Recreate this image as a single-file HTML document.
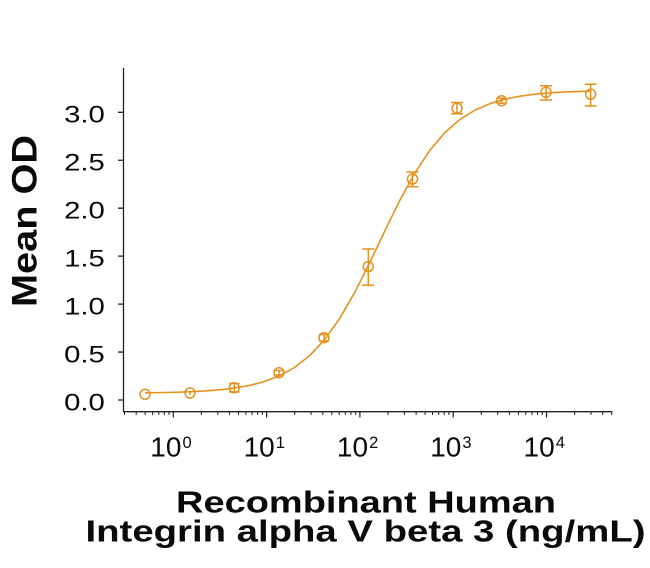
<!DOCTYPE html>
<html>
<head>
<meta charset="utf-8">
<style>
  html, body { margin:0; padding:0; background:#ffffff; }
  svg { display:block; }
  text { font-family: "Liberation Sans", Arial, sans-serif; fill:#0a0a0a; }
</style>
</head>
<body>
<svg width="650" height="568" viewBox="0 0 650 568" xmlns="http://www.w3.org/2000/svg">
  <rect width="650" height="568" fill="#ffffff"/>

  <path fill="none" stroke="#222" stroke-width="1.3"
    d="M123.5 68V412 M123 411.7H612.5 M118 400h5.5 M118 352.05h5.5 M118 304.1h5.5 M118 256.15h5.5 M118 208.2h5.5 M118 160.25h5.5 M118 112.3h5.5"/>

  <path fill="none" stroke="#222" stroke-width="1.2"
    d="M173.3 411.7v5.8 M266.6 411.7v5.8 M359.9 411.7v5.8 M453.2 411.7v5.8 M546.5 411.7v5.8"/>

  <path fill="none" stroke="#222" stroke-width="1"
    d="M124.5 411.7v3.3M136.2 411.7v3.3M145.2 411.7v3.3M152.6 411.7v3.3M158.8 411.7v3.3M164.3 411.7v3.3M169 411.7v3.3
       M201.4 411.7v3.3M217.8 411.7v3.3M229.5 411.7v3.3M238.5 411.7v3.3M245.9 411.7v3.3M252.1 411.7v3.3M257.6 411.7v3.3M262.3 411.7v3.3
       M294.7 411.7v3.3M311.1 411.7v3.3M322.8 411.7v3.3M331.8 411.7v3.3M339.2 411.7v3.3M345.4 411.7v3.3M350.9 411.7v3.3M355.6 411.7v3.3
       M388 411.7v3.3M404.4 411.7v3.3M416.1 411.7v3.3M425.1 411.7v3.3M432.5 411.7v3.3M438.7 411.7v3.3M444.2 411.7v3.3M448.9 411.7v3.3
       M481.3 411.7v3.3M497.7 411.7v3.3M509.4 411.7v3.3M518.4 411.7v3.3M525.8 411.7v3.3M532 411.7v3.3M537.5 411.7v3.3M542.2 411.7v3.3
       M574.6 411.7v3.3M591 411.7v3.3M602.7 411.7v3.3M611.7 411.7v3.3"/>

  <g font-size="24.5" text-anchor="end">
    <text x="104.8" y="410.4" textLength="40.7" lengthAdjust="spacingAndGlyphs">0.0</text>
    <text x="104.8" y="362.45" textLength="40.7" lengthAdjust="spacingAndGlyphs">0.5</text>
    <text x="104.8" y="314.5" textLength="40.7" lengthAdjust="spacingAndGlyphs">1.0</text>
    <text x="104.8" y="266.55" textLength="40.7" lengthAdjust="spacingAndGlyphs">1.5</text>
    <text x="104.8" y="218.6" textLength="40.7" lengthAdjust="spacingAndGlyphs">2.0</text>
    <text x="104.8" y="170.65" textLength="40.7" lengthAdjust="spacingAndGlyphs">2.5</text>
    <text x="104.8" y="122.7" textLength="40.7" lengthAdjust="spacingAndGlyphs">3.0</text>
  </g>

  <text x="150.3" y="456.7" font-size="28">10</text><text x="182.5" y="448" font-size="16.5">0</text>
  <text x="243.6" y="456.7" font-size="28">10</text><text x="275.8" y="448" font-size="16.5">1</text>
  <text x="336.9" y="456.7" font-size="28">10</text><text x="369.1" y="448" font-size="16.5">2</text>
  <text x="430.2" y="456.7" font-size="28">10</text><text x="462.4" y="448" font-size="16.5">3</text>
  <text x="523.5" y="456.7" font-size="28">10</text><text x="555.7" y="448" font-size="16.5">4</text>

  <text transform="translate(36.7,221) rotate(-90)" text-anchor="middle" font-size="35" font-weight="bold" textLength="172" lengthAdjust="spacingAndGlyphs">Mean OD</text>

  <text x="366" y="512.3" text-anchor="middle" font-size="30.5" font-weight="bold" textLength="380" lengthAdjust="spacingAndGlyphs">Recombinant Human</text>
  <text x="365.5" y="541.7" text-anchor="middle" font-size="30.5" font-weight="bold" textLength="560" lengthAdjust="spacingAndGlyphs">Integrin alpha V beta 3 (ng/mL)</text>

  <polyline fill="none" stroke="#E3921E" stroke-width="1.6" stroke-linejoin="round"
    points="145,392.85 160,392.63 175,392.28 190,391.76 205,390.98 220,389.79 235,388.01 250,385.33 265,381.38 280,375.56 295,367.14 310,355.29 325,339.07 340,317.95 355,291.92 370,262.11 385,230.55 400,199.99 415,172.71 430,150.07 445,132.49 460,119.43 475,110.13 490,103.64 505,99.18 520,96.18 535,94.19 550,92.86 565,91.98 580,91.40 591,91.08"/>

  <g fill="none" stroke="#E3921E" stroke-width="1.5">
    <circle cx="145" cy="394.3" r="5"/>
    <circle cx="190" cy="393" r="5"/>
    <circle cx="234.3" cy="387.7" r="5"/>
    <circle cx="279" cy="372.7" r="5"/>
    <circle cx="324" cy="337.7" r="5"/>
    <circle cx="368.3" cy="266.5" r="5"/>
    <circle cx="412.5" cy="179" r="5"/>
    <circle cx="457" cy="108.3" r="5"/>
    <circle cx="501.5" cy="100.7" r="5"/>
    <circle cx="546" cy="92.3" r="5"/>
    <circle cx="590.7" cy="94.3" r="5"/>
    <path d="M190 391v4
             M234.3 383.5v8.5 M229 383.5h10.6 M229 392h10.6
             M279 370.5v4.5 M274 370.5h10 M274 375h10
             M324 334.5v6.5 M319 334.5h10 M319 341h10
             M368.3 249v36.3 M362.3 249h12 M362.3 285.3h12
             M412.5 172v14.7 M406.5 172h12 M406.5 186.7h12
             M457 102.5v11.3 M451 102.5h12 M451 113.8h12
             M501.5 98.2v5 M496.5 98.2h10 M496.5 103.2h10
             M546 85.7v14.3 M540 85.7h12 M540 100h12
             M590.7 84.3v21.7 M584.7 84.3h12 M584.7 106h12"/>
  </g>
</svg>
</body>
</html>
